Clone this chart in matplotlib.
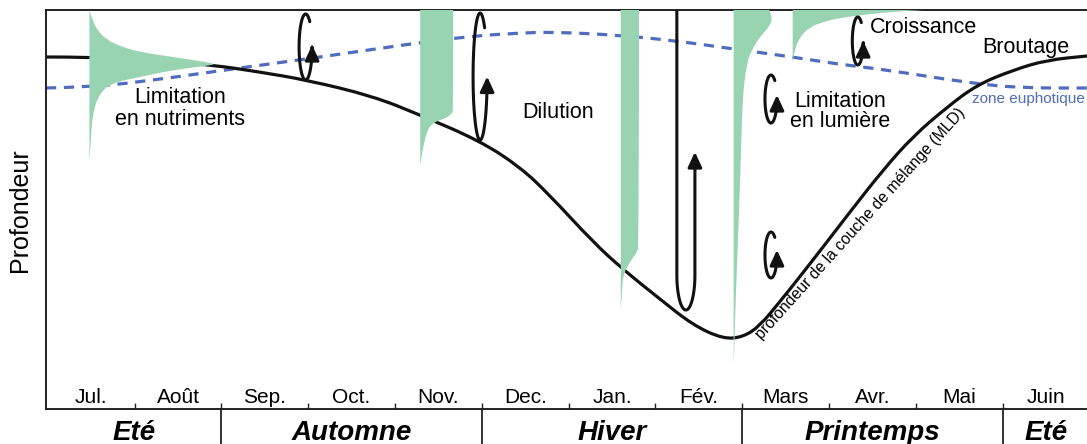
import numpy as np
import matplotlib
matplotlib.use('Agg')
import matplotlib.pyplot as plt
import matplotlib.transforms as mtransforms
from matplotlib.path import Path
from matplotlib.patches import FancyArrowPatch, PathPatch

plt.rcParams['font.family'] = ['Liberation Sans', 'DejaVu Sans']

# ---------------- data (x in months from July, depth in arbitrary units, 0 = surface) ----
months = ['Jul.', 'Août', 'Sep.', 'Oct.', 'Nov.', 'Dec.', 'Jan.', 'Fév.',
          'Mars', 'Avr.', 'Mai', 'Juin']
seasons = ['Eté', 'Automne', 'Hiver', 'Printemps', 'Eté']
season_bounds = [0, 2, 5, 8, 11, 12]

mld_x = [-0.02, 0.48, 1.18, 1.90, 2.44, 2.98, 3.74, 4.29, 4.98, 5.44, 5.78, 6.28,
         6.62, 7.05, 7.43, 7.78, 8.01, 8.20, 8.43, 8.66, 8.93, 9.24, 9.62, 9.97,
         10.36, 10.70, 11.12, 11.51, 11.97]
mld_depth = [47, 47, 50, 55, 62, 70, 86, 105, 131, 157, 185, 232,
             259, 289, 315, 329, 327, 316, 292, 267, 237, 202, 160, 126,
             97, 75, 60, 50, 46]

euph_x = [-0.02, 0.48, 1.06, 2.21, 2.98, 4.25, 4.90, 5.44, 5.82, 6.56, 7.25, 7.82,
          8.58, 9.09, 9.67, 10.62, 11.20, 11.97]
euph_depth = [78, 77, 72, 58, 49, 33, 26, 23, 22, 25, 31, 38,
              47, 54, 60, 73, 78, 78]

# phytoplankton profiles: anchor month, depths, horizontal extent (months)
bloom1_x0 = 0.48
bloom1_depth = [0, 10, 20, 30, 37, 42, 47, 52, 54, 55, 60, 67, 73, 83, 103, 137, 150]
bloom1_w = [0, 0.035, 0.09, 0.20, 0.38, 0.58, 0.96, 1.35, 1.43, 1.43, 0.96, 0.58,
            0.26, 0.12, 0.035, 0.012, 0]

bloom2_x0 = 4.29
bloom2_depth = [0, 100, 103, 107, 110, 113, 120, 137, 155]
bloom2_w = [0.38, 0.38, 0.37, 0.32, 0.23, 0.15, 0.08, 0.035, 0]

bloom3_x0 = 6.60
bloom3_depth = [0, 237, 243, 248, 257, 267, 285, 300]
bloom3_w = [0.21, 0.21, 0.18, 0.14, 0.07, 0.023, 0.012, 0]

bloom4_x0 = 7.90
bloom4_depth = [0, 7, 17, 27, 40, 53, 90, 160, 240, 290, 327, 355]
bloom4_w = [0.41, 0.45, 0.41, 0.30, 0.21, 0.15, 0.10, 0.08, 0.046, 0.023, 0.012, 0]

bloom5_x0 = 8.58
bloom5_depth = [0, 2, 5, 8, 12, 17, 27, 40, 53]
bloom5_w = [1.50, 1.09, 0.81, 0.54, 0.35, 0.20, 0.08, 0.023, 0]

# mixing loops: centre x, half width, top, bottom, arrow tip, rounded-end height, hook
loops = [
    (2.97, 0.075, 4, 70, 35, None, True),
    (4.98, 0.081, 3, 130, 66, None, True),
    (7.35, 0.104, -10, 300, 142, 35, False),
    (8.33, 0.069, 65, 113, 85, None, True),
    (8.33, 0.069, 222, 268, 240, None, True),
    (9.33, 0.063, 7, 55, 33, None, True),
]

# ---------------- figure ----------------
GREEN = '#99d4b2'
BLUE = '#4f6cbe'
DARK = '#222222'

fig = plt.figure(figsize=(10.87, 4.44), dpi=100)
ax = fig.add_axes([46 / 1087, 35 / 444, 1041 / 1087, 399 / 444])
ax.set_xlim(-0.02, 11.97)
ax.set_ylim(399, 0)

for s in ['left', 'top', 'bottom']:
    ax.spines[s].set_linewidth(1.4)
    ax.spines[s].set_color(DARK)
ax.spines['right'].set_visible(False)
ax.set_yticks([])
ax.set_xticks(range(1, 12))
ax.tick_params(axis='x', direction='in', length=4.5, width=1.0, color=DARK,
               labelbottom=False)


def smooth_verts(xs, ys):
    """Quadratic-Bezier path through the given points (library draws the curve)."""
    pts = np.column_stack([np.asarray(xs, float), np.asarray(ys, float)])
    verts = [pts[0]]
    codes = [Path.MOVETO]
    for i in range(1, len(pts) - 1):
        mid = (pts[i] + pts[i + 1]) / 2.0
        verts += [pts[i], mid]
        codes += [Path.CURVE3, Path.CURVE3]
    verts.append(pts[-1])
    codes.append(Path.LINETO)
    return verts, codes


# euphotic zone and mixed layer depth
v, c = smooth_verts(euph_x, euph_depth)
ax.add_patch(PathPatch(Path(v, c), fill=False, edgecolor=BLUE, lw=2.3,
                       ls=(0, (3.2, 2.4)), zorder=2))
v, c = smooth_verts(mld_x, mld_depth)
ax.add_patch(PathPatch(Path(v, c), fill=False, edgecolor='#111111', lw=2.3,
                       zorder=2.5, capstyle='round', joinstyle='round'))

# phytoplankton profiles
for x0, d, w in [(bloom1_x0, bloom1_depth, bloom1_w),
                 (bloom2_x0, bloom2_depth, bloom2_w),
                 (bloom3_x0, bloom3_depth, bloom3_w),
                 (bloom4_x0, bloom4_depth, bloom4_w),
                 (bloom5_x0, bloom5_depth, bloom5_w)]:
    d = np.asarray(d, float)
    xr = x0 + np.asarray(w, float)
    v, c = smooth_verts(xr, d)
    v = v + [(x0, d[-1]), (x0, d[0]), (x0, d[0])]
    c = c + [Path.LINETO, Path.LINETO, Path.CLOSEPOLY]
    ax.add_patch(PathPatch(Path(v, c), facecolor=GREEN, edgecolor='none',
                           lw=0, zorder=3))


def loop_path(cx, a, top, bottom, tip, cap, hook):
    if cap is None:
        cap = (bottom - top) / 2.0
    pts = []
    if hook:
        t = np.radians(np.linspace(50, 180, 30))
        cyt = top + cap
        pts += list(zip(cx + a * np.cos(t), cyt - cap * np.sin(t)))
    else:
        pts.append((cx - a, top))
    cyb = bottom - cap
    t = np.radians(np.linspace(180, 360, 50))
    pts += list(zip(cx + a * np.cos(t), cyb - cap * np.sin(t)))
    if tip < cyb - 1:
        pts.append((cx + a, tip))
    return Path(np.array(pts))


for cx, a, top, bottom, tip, cap, hook in loops:
    p = loop_path(cx, a, top, bottom, tip, cap, hook)
    arr = FancyArrowPatch(path=p, arrowstyle='-|>,head_length=0.9,head_width=0.42',
                          mutation_scale=10, lw=2.2, color='#111111',
                          shrinkA=0, shrinkB=0, zorder=5, capstyle='round')
    ax.add_patch(arr)

# annotations
TXT = 15.5
ax.text(1.52, 93, 'Limitation', fontsize=TXT, ha='center', va='baseline', zorder=6)
ax.text(1.52, 115, 'en nutriments', fontsize=TXT, ha='center', va='baseline', zorder=6)
ax.text(5.88, 108, 'Dilution', fontsize=TXT, ha='center', va='baseline', zorder=6)
ax.text(9.13, 97, 'Limitation', fontsize=TXT, ha='center', va='baseline', zorder=6)
ax.text(9.13, 117, 'en lumière', fontsize=TXT, ha='center', va='baseline', zorder=6)
ax.text(9.47, 23, 'Croissance', fontsize=TXT, ha='left', va='baseline', zorder=6)
ax.text(10.76, 43, 'Broutage', fontsize=TXT, ha='left', va='baseline', zorder=6)
ax.text(10.65, 93, 'zone euphotique', fontsize=11, color=BLUE, ha='left',
        va='baseline', zorder=6, clip_on=False)
ax.text(9.36, 214, 'profondeur de la couche de mélange (MLD)', fontsize=11.3,
        rotation=48, rotation_mode='anchor', ha='center', va='center', zorder=6)

# month and season labels
trans = mtransforms.blended_transform_factory(ax.transData, ax.transAxes)
for i, m in enumerate(months):
    ax.text(i + 0.5, 0.015, m, transform=trans, fontsize=15, ha='center',
            va='baseline')
for b in season_bounds[1:-1]:
    ax.plot([b, b], [0, -0.1], transform=trans, color=DARK, lw=1.3,
            clip_on=False)
for k, s in enumerate(seasons):
    cpos = (season_bounds[k] + season_bounds[k + 1]) / 2.0
    ax.text(cpos, -0.077, s, transform=trans, fontsize=20, fontweight='bold',
            fontstyle='italic', ha='center', va='baseline')

fig.text(20 / 1087, (444 - 210) / 444, 'Profondeur', rotation=90, fontsize=18,
         ha='center', va='center')

fig.savefig('out.png', dpi=100)
